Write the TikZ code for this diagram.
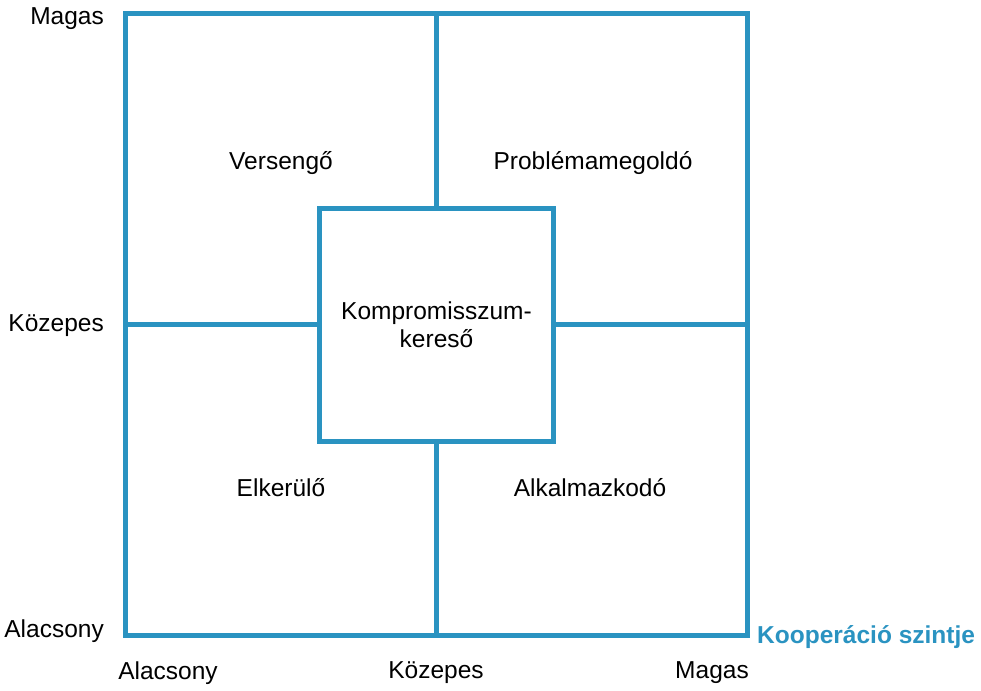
\documentclass[tikz,border=0pt]{standalone}
\usepackage{fontspec}
\setmainfont{Liberation Sans}
\definecolor{gridblue}{HTML}{2A93C1}
\begin{document}
\begin{tikzpicture}[x=1pt,y=-1pt,
    frame/.style={draw=gridblue,line width=5pt},
    lbl/.style={font=\fontsize{24.5}{28}\selectfont,inner sep=0pt},
    axis/.style={lbl,text=gridblue,font=\fontsize{24.5}{28}\selectfont\bfseries}]
  \useasboundingbox (0,0) rectangle (981,690);
  % outer square
  \coordinate (tl) at (125,14);
  \coordinate (br) at (747,635);
  \draw[frame] (tl) rectangle (br);
  % middle box
  \node[frame,lbl,minimum width=234pt,minimum height=233pt,outer sep=0pt,
        align=center] (komp) at (436.5,324.5) {Kompromisszum-\\kereső};
  \draw[frame] (komp.north) -- (komp.north |- tl);
  \draw[frame] (komp.south) -- (komp.south |- br);
  \draw[frame] (komp.west) -- (komp.west -| tl);
  \draw[frame] (komp.east) -- (komp.east -| br);
  % quadrants
  \node[lbl] (verseng) at (281,163) {Versengő};
  \node[lbl] (problema) at (593,163) {Problémamegoldó};
  \node[lbl] (elkerul) at (281,488) {Elkerülő};
  \node[lbl] (alkalmaz) at (590,488) {Alkalmazkodó};
  % left scale
  \node[lbl,anchor=east] (yhigh) at (104,19) {Magas};
  \node[lbl,anchor=east] (ymid) at (104,326) {Közepes};
  \node[lbl,anchor=east] (ylow) at (104,631) {Alacsony};
  % bottom scale
  \node[lbl] (xlow) at (168,673) {Alacsony};
  \node[lbl] (xmid) at (436,673) {Közepes};
  \node[lbl] (xhigh) at (712,673) {Magas};
  \node[axis,anchor=west] (xaxis) at (757,637) {Kooperáció szintje};
\end{tikzpicture}
\end{document}
